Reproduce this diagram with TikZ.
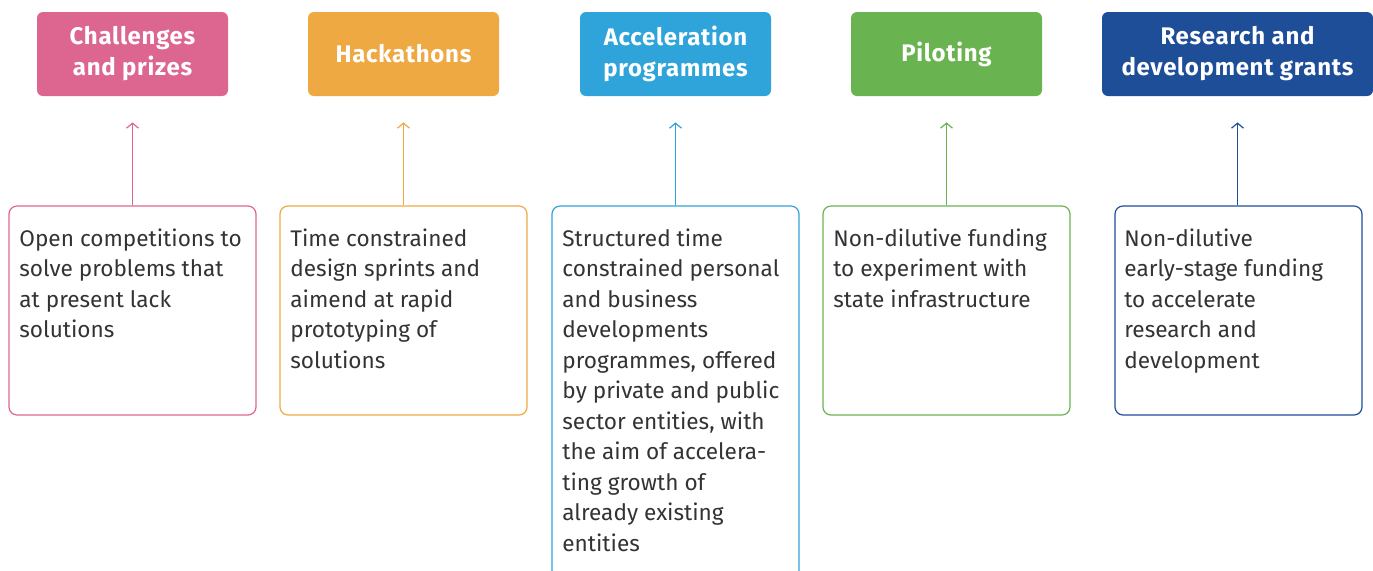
\documentclass[tikz,border=0pt]{standalone}
\usepackage{fontspec}
\setmainfont{Fira Sans}
\newfontfamily\headfont[LetterSpace=3]{Fira Sans}
\usetikzlibrary{arrows.meta}
\definecolor{cpink}{HTML}{DD6690}
\definecolor{corange}{HTML}{EEA942}
\definecolor{cblue}{HTML}{2EA4DB}
\definecolor{cgreen}{HTML}{6AB351}
\definecolor{cnavy}{HTML}{1F4E99}
\definecolor{textgray}{HTML}{333333}
\begin{document}
\begin{tikzpicture}[x=0.5pt,y=-0.5pt,
 head/.style={fill=#1, rounded corners=3pt, minimum width=95.5pt, minimum height=42pt, text=white,
   font=\headfont\bfseries\fontsize{12}{15.5}\selectfont, align=center, inner sep=0pt},
 body/.style={draw=#1, line width=0.6pt, rounded corners=4pt, minimum width=123.5pt, minimum height=104.5pt, inner sep=0pt},
 txt/.style={anchor=north west, align=left, font=\fontsize{11.3}{15.25}\selectfont, text=textgray, inner sep=0pt},
 link/.style={draw=#1, line width=0.6pt, -{Straight Barb[length=2.5pt,width=6pt]}, shorten >=13pt}]
\useasboundingbox (0,0) rectangle (1373,570);
\clip (0,0) rectangle (1373,570);
% heads
\node[head=cpink] (h1) at (132.5,54) {Challenges\\and prizes};
\node[head=corange] (h2) at (403.5,54) {Hackathons};
\node[head=cblue] (h3) at (675.5,54) {Acceleration\\programmes};
\node[head=cgreen] (h4) at (946.5,54) {Piloting};
\node[head=cnavy, minimum width=135.5pt] (h5) at (1237.5,54) {Research and\\development grants};
% bodies
\node[body=cpink] (b1) at (132.5,310.5) {};
\node[body=corange] (b2) at (403.5,310.5) {};
\node[body=cblue, minimum height=200pt] (b3) at (675.5,406) {};
\node[body=cgreen] (b4) at (946.5,310.5) {};
\node[body=cnavy] (b5) at (1238.5,310.5) {};
% texts
\node[txt] (t1) at (19,228) {Open competitions to\\solve problems that\\at present lack\\solutions};
\node[txt] (t2) at (290,228) {Time constrained\\design sprints and\\aimend at rapid\\prototyping of\\solutions};
\node[txt] (t3) at (562,228) {Structured time\\constrained personal\\and business\\developments\\programmes, offered\\by private and public\\sector entities, with\\the aim of accelera-\\ting growth of\\already existing\\entities};
\node[txt] (t4) at (833,228) {Non-dilutive funding\\to experiment with\\state infrastructure};
\node[txt] (t5) at (1124,228) {Non-dilutive\\early-stage funding\\to accelerate\\research and\\development};
% links
\draw[link=cpink] (b1.north) -- (h1.south);
\draw[link=corange] (b2.north) -- (h2.south);
\draw[link=cblue] (b3.north) -- (h3.south);
\draw[link=cgreen] (b4.north) -- (h4.south);
\draw[link=cnavy] (b5.north -| h5.south) -- (h5.south);
\end{tikzpicture}
\end{document}
